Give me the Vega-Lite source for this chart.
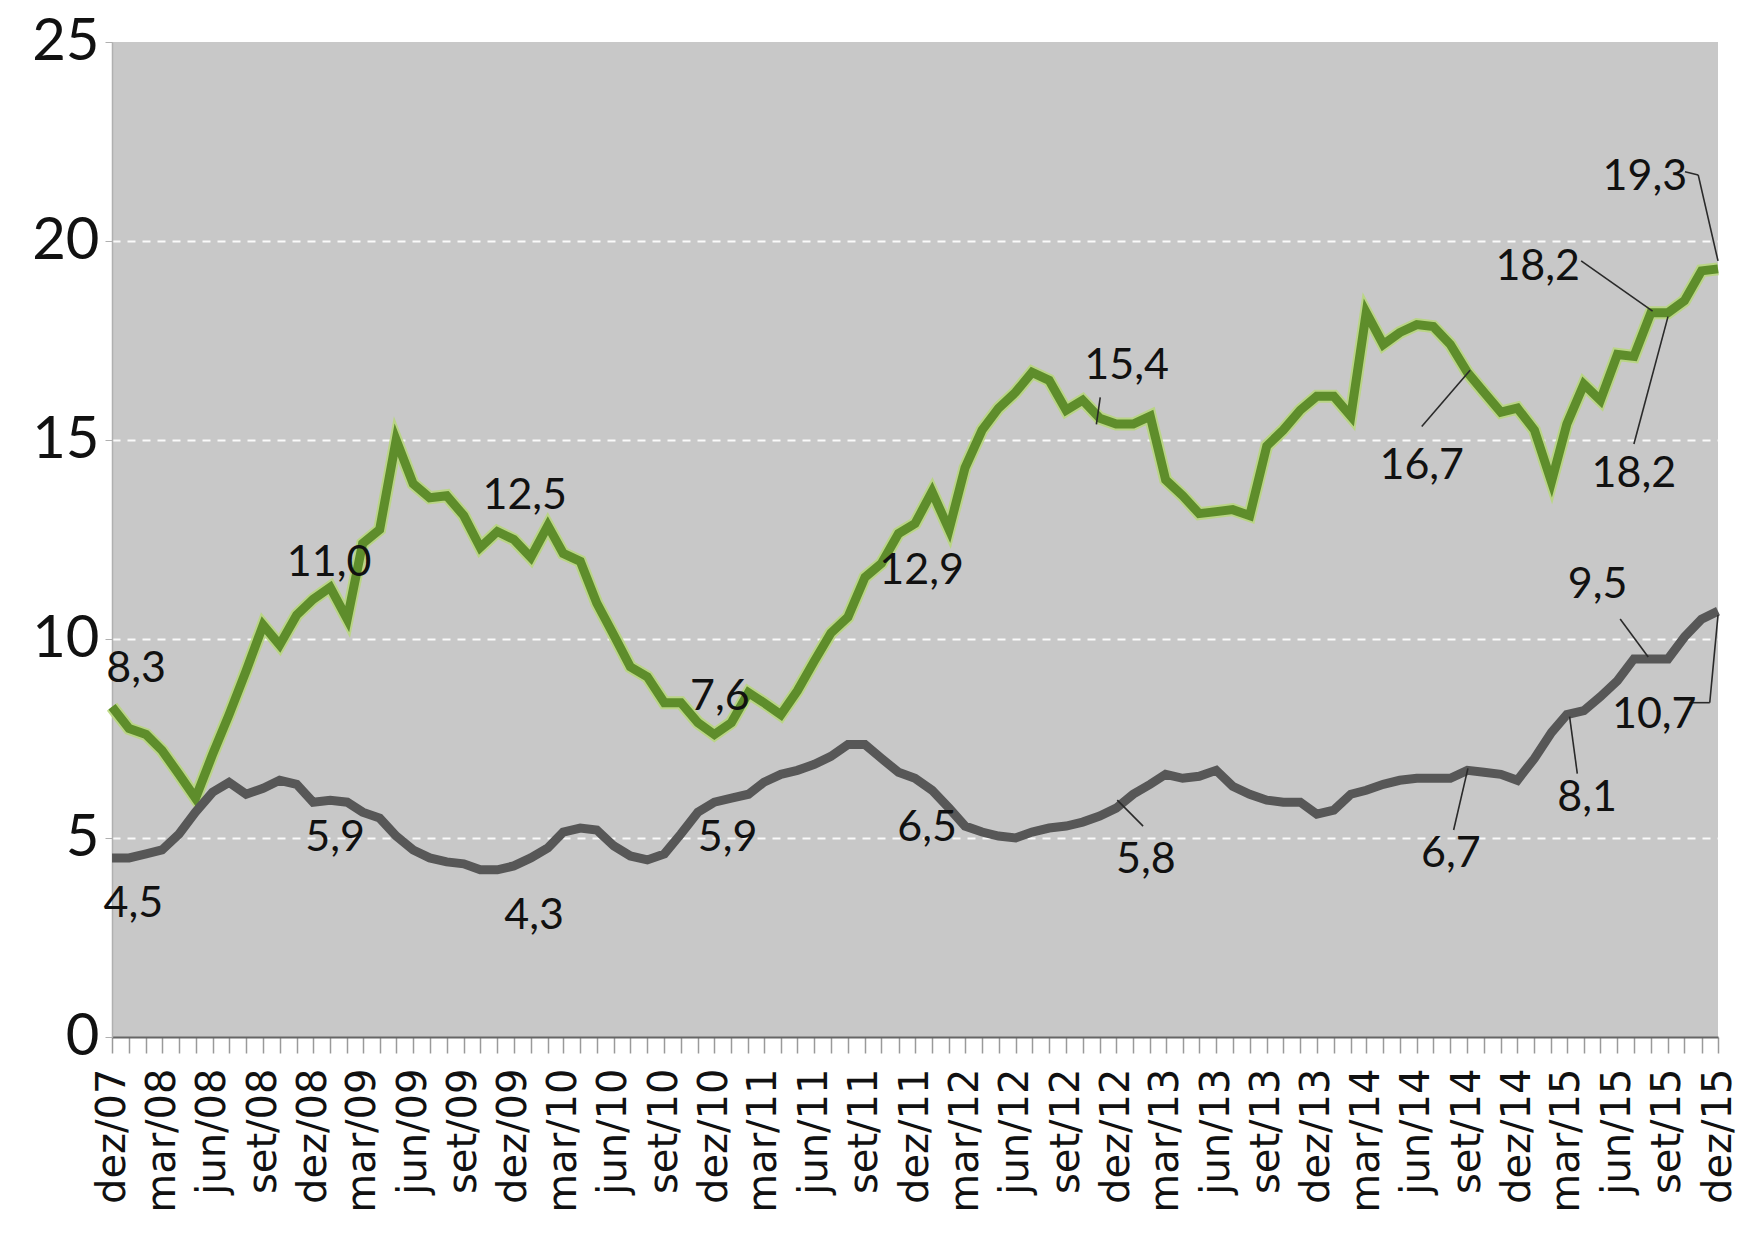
{
  "$schema": "https://vega.github.io/schema/vega-lite/v6.json",
  "width": 1606,
  "height": 995,
  "autosize": {"type": "none"},
  "padding": {"left": 112, "top": 42, "right": 31, "bottom": 202},
  "background": "white",
  "config": {"view": {"fill": "#c8c8c8", "stroke": null}, "font": "Lato"},
  "datasets": {
    "series": [
      {"mes":"2007-12-01","Serie1":8.3,"Serie2":4.5},
      {"mes":"2008-01-01","Serie1":7.75,"Serie2":4.5},
      {"mes":"2008-02-01","Serie1":7.6,"Serie2":4.6},
      {"mes":"2008-03-01","Serie1":7.2,"Serie2":4.7},
      {"mes":"2008-04-01","Serie1":6.6,"Serie2":5.1},
      {"mes":"2008-05-01","Serie1":6.0,"Serie2":5.65},
      {"mes":"2008-06-01","Serie1":7.1,"Serie2":6.15},
      {"mes":"2008-07-01","Serie1":8.1,"Serie2":6.4},
      {"mes":"2008-08-01","Serie1":9.2,"Serie2":6.1},
      {"mes":"2008-09-01","Serie1":10.35,"Serie2":6.25},
      {"mes":"2008-10-01","Serie1":9.85,"Serie2":6.45},
      {"mes":"2008-11-01","Serie1":10.6,"Serie2":6.35},
      {"mes":"2008-12-01","Serie1":11.0,"Serie2":5.9},
      {"mes":"2009-01-01","Serie1":11.3,"Serie2":5.95},
      {"mes":"2009-02-01","Serie1":10.5,"Serie2":5.9},
      {"mes":"2009-03-01","Serie1":12.4,"Serie2":5.65},
      {"mes":"2009-04-01","Serie1":12.75,"Serie2":5.5},
      {"mes":"2009-05-01","Serie1":15.0,"Serie2":5.05},
      {"mes":"2009-06-01","Serie1":13.9,"Serie2":4.7},
      {"mes":"2009-07-01","Serie1":13.55,"Serie2":4.5},
      {"mes":"2009-08-01","Serie1":13.6,"Serie2":4.4},
      {"mes":"2009-09-01","Serie1":13.1,"Serie2":4.35},
      {"mes":"2009-10-01","Serie1":12.3,"Serie2":4.2},
      {"mes":"2009-11-01","Serie1":12.7,"Serie2":4.2},
      {"mes":"2009-12-01","Serie1":12.5,"Serie2":4.3},
      {"mes":"2010-01-01","Serie1":12.05,"Serie2":4.5},
      {"mes":"2010-02-01","Serie1":12.85,"Serie2":4.75},
      {"mes":"2010-03-01","Serie1":12.15,"Serie2":5.15},
      {"mes":"2010-04-01","Serie1":11.95,"Serie2":5.25},
      {"mes":"2010-05-01","Serie1":10.9,"Serie2":5.2},
      {"mes":"2010-06-01","Serie1":10.1,"Serie2":4.8},
      {"mes":"2010-07-01","Serie1":9.3,"Serie2":4.55},
      {"mes":"2010-08-01","Serie1":9.05,"Serie2":4.45},
      {"mes":"2010-09-01","Serie1":8.4,"Serie2":4.6},
      {"mes":"2010-10-01","Serie1":8.4,"Serie2":5.1},
      {"mes":"2010-11-01","Serie1":7.9,"Serie2":5.65},
      {"mes":"2010-12-01","Serie1":7.6,"Serie2":5.9},
      {"mes":"2011-01-01","Serie1":7.9,"Serie2":6.0},
      {"mes":"2011-02-01","Serie1":8.65,"Serie2":6.1},
      {"mes":"2011-03-01","Serie1":8.4,"Serie2":6.4},
      {"mes":"2011-04-01","Serie1":8.1,"Serie2":6.6},
      {"mes":"2011-05-01","Serie1":8.7,"Serie2":6.7},
      {"mes":"2011-06-01","Serie1":9.45,"Serie2":6.85},
      {"mes":"2011-07-01","Serie1":10.15,"Serie2":7.05},
      {"mes":"2011-08-01","Serie1":10.55,"Serie2":7.35},
      {"mes":"2011-09-01","Serie1":11.55,"Serie2":7.35},
      {"mes":"2011-10-01","Serie1":11.9,"Serie2":7.0},
      {"mes":"2011-11-01","Serie1":12.65,"Serie2":6.65},
      {"mes":"2011-12-01","Serie1":12.9,"Serie2":6.5},
      {"mes":"2012-01-01","Serie1":13.7,"Serie2":6.2},
      {"mes":"2012-02-01","Serie1":12.75,"Serie2":5.75},
      {"mes":"2012-03-01","Serie1":14.3,"Serie2":5.3},
      {"mes":"2012-04-01","Serie1":15.25,"Serie2":5.15},
      {"mes":"2012-05-01","Serie1":15.8,"Serie2":5.05},
      {"mes":"2012-06-01","Serie1":16.2,"Serie2":5.0},
      {"mes":"2012-07-01","Serie1":16.7,"Serie2":5.15},
      {"mes":"2012-08-01","Serie1":16.5,"Serie2":5.25},
      {"mes":"2012-09-01","Serie1":15.75,"Serie2":5.3},
      {"mes":"2012-10-01","Serie1":16.0,"Serie2":5.4},
      {"mes":"2012-11-01","Serie1":15.55,"Serie2":5.55},
      {"mes":"2012-12-01","Serie1":15.4,"Serie2":5.75},
      {"mes":"2013-01-01","Serie1":15.4,"Serie2":6.1},
      {"mes":"2013-02-01","Serie1":15.6,"Serie2":6.35},
      {"mes":"2013-03-01","Serie1":14.0,"Serie2":6.6},
      {"mes":"2013-04-01","Serie1":13.6,"Serie2":6.5},
      {"mes":"2013-05-01","Serie1":13.15,"Serie2":6.55},
      {"mes":"2013-06-01","Serie1":13.2,"Serie2":6.7},
      {"mes":"2013-07-01","Serie1":13.25,"Serie2":6.3},
      {"mes":"2013-08-01","Serie1":13.1,"Serie2":6.1},
      {"mes":"2013-09-01","Serie1":14.85,"Serie2":5.95},
      {"mes":"2013-10-01","Serie1":15.25,"Serie2":5.9},
      {"mes":"2013-11-01","Serie1":15.75,"Serie2":5.9},
      {"mes":"2013-12-01","Serie1":16.1,"Serie2":5.6},
      {"mes":"2014-01-01","Serie1":16.1,"Serie2":5.7},
      {"mes":"2014-02-01","Serie1":15.6,"Serie2":6.1},
      {"mes":"2014-03-01","Serie1":18.2,"Serie2":6.2},
      {"mes":"2014-04-01","Serie1":17.4,"Serie2":6.35},
      {"mes":"2014-05-01","Serie1":17.7,"Serie2":6.45},
      {"mes":"2014-06-01","Serie1":17.9,"Serie2":6.5},
      {"mes":"2014-07-01","Serie1":17.85,"Serie2":6.5},
      {"mes":"2014-08-01","Serie1":17.4,"Serie2":6.5},
      {"mes":"2014-09-01","Serie1":16.7,"Serie2":6.7},
      {"mes":"2014-10-01","Serie1":16.2,"Serie2":6.65},
      {"mes":"2014-11-01","Serie1":15.7,"Serie2":6.6},
      {"mes":"2014-12-01","Serie1":15.8,"Serie2":6.45},
      {"mes":"2015-01-01","Serie1":15.25,"Serie2":7.0},
      {"mes":"2015-02-01","Serie1":13.95,"Serie2":7.65},
      {"mes":"2015-03-01","Serie1":15.4,"Serie2":8.1},
      {"mes":"2015-04-01","Serie1":16.4,"Serie2":8.2},
      {"mes":"2015-05-01","Serie1":16.0,"Serie2":8.55},
      {"mes":"2015-06-01","Serie1":17.15,"Serie2":8.95},
      {"mes":"2015-07-01","Serie1":17.1,"Serie2":9.5},
      {"mes":"2015-08-01","Serie1":18.2,"Serie2":9.5},
      {"mes":"2015-09-01","Serie1":18.2,"Serie2":9.5},
      {"mes":"2015-10-01","Serie1":18.5,"Serie2":10.05},
      {"mes":"2015-11-01","Serie1":19.25,"Serie2":10.5},
      {"mes":"2015-12-01","Serie1":19.3,"Serie2":10.7}
    ],
    "rotulos": [
      {"mes":"2008-01-14","valor":9.25,"rotulo":"8,3"},
      {"mes":"2008-12-30","valor":11.9,"rotulo":"11,0"},
      {"mes":"2009-12-21","valor":13.6,"rotulo":"12,5"},
      {"mes":"2010-12-11","valor":8.55,"rotulo":"7,6"},
      {"mes":"2011-12-13","valor":11.7,"rotulo":"12,9"},
      {"mes":"2012-12-20","valor":16.85,"rotulo":"15,4"},
      {"mes":"2014-06-10","valor":14.35,"rotulo":"16,7"},
      {"mes":"2015-01-07","valor":19.35,"rotulo":"18,2"},
      {"mes":"2015-07-01","valor":14.15,"rotulo":"18,2"},
      {"mes":"2015-07-21","valor":21.6,"rotulo":"19,3"},
      {"mes":"2008-01-09","valor":3.35,"rotulo":"4,5"},
      {"mes":"2009-01-10","valor":5.0,"rotulo":"5,9"},
      {"mes":"2010-01-07","valor":3.05,"rotulo":"4,3"},
      {"mes":"2010-12-25","valor":5.0,"rotulo":"5,9"},
      {"mes":"2011-12-23","valor":5.25,"rotulo":"6,5"},
      {"mes":"2013-01-24","valor":4.45,"rotulo":"5,8"},
      {"mes":"2014-08-02","valor":4.6,"rotulo":"6,7"},
      {"mes":"2015-04-07","valor":6.0,"rotulo":"8,1"},
      {"mes":"2015-04-26","valor":11.35,"rotulo":"9,5"},
      {"mes":"2015-08-07","valor":8.1,"rotulo":"10,7"}
    ],
    "guias": [
      {"mes":"2012-11-02","valor":16.07,"mes2":"2012-10-26","valor2":15.39},
      {"mes":"2014-06-10","valor":15.34,"mes2":"2014-09-06","valor2":16.75},
      {"mes":"2015-03-27","valor":19.5,"mes2":"2015-08-04","valor2":18.24},
      {"mes":"2015-07-01","valor":14.9,"mes2":"2015-09-01","valor2":18.1},
      {"mes":"2015-10-02","valor":21.74,"mes2":"2015-10-26","valor2":21.66},
      {"mes":"2015-10-26","valor":21.66,"mes2":"2015-12-01","valor2":19.5},
      {"mes":"2012-12-03","valor":5.95,"mes2":"2013-01-19","valor2":5.3},
      {"mes":"2014-09-02","valor":6.75,"mes2":"2014-08-07","valor2":5.2},
      {"mes":"2015-03-20","valor":6.62,"mes2":"2015-03-06","valor2":8.05},
      {"mes":"2015-06-06","valor":10.5,"mes2":"2015-07-27","valor2":9.55},
      {"mes":"2015-10-10","valor":8.4,"mes2":"2015-11-16","valor2":8.4},
      {"mes":"2015-11-16","valor":8.4,"mes2":"2015-12-01","valor2":10.6}
    ]
  },
  "layer": [
    {
      "data": {"name": "series"},
      "transform": [{"fold": ["Serie1", "Serie2"], "as": ["serie", "valor"]}, {"filter": "datum.serie == 'Serie1'"}],
      "mark": {"type": "line", "strokeWidth": 13, "color": "#b7d77a", "opacity": 0.85, "strokeJoin": "miter"},
      "encoding": {
        "x": {
          "field": "mes", "type": "temporal",
          "scale": {"type": "utc", "nice": false, "domain": [{"year": 2007, "month": 12, "date": 1, "utc": true}, {"year": 2015, "month": 12, "date": 1, "utc": true}]},
          "axis": {
            "title": null,
            "tickCount": {"interval": "month", "step": 1},
            "labelExpr": "indexof([2,5,8,11], utcmonth(datum.value)) >= 0 ? (['jan','fev','mar','abr','mai','jun','jul','ago','set','out','nov','dez'][utcmonth(datum.value)] + '/' + utcFormat(datum.value, '%y')) : ''",
            "labelAngle": -90,
            "labelFont": "DejaVu Sans",
            "labelFontSize": 40,
            "labelColor": "#111111",
            "labelOverlap": false,
            "labelFlush": false,
            "labelBound": false,
            "labelPadding": 15,
            "tickColor": "#9a9a9a",
            "tickSize": 16,
            "tickWidth": 1.5,
            "domainColor": "#666666",
            "domainWidth": 2,
            "grid": false
          }
        },
        "y": {
          "field": "valor", "type": "quantitative",
          "scale": {"domain": [0, 25], "nice": false},
          "axis": {
            "title": null,
            "values": [0, 5, 10, 15, 20, 25],
            "labelFont": "Lato",
            "labelFontSize": 58,
            "labelColor": "#111111",
            "labelPadding": 6,
            "domainColor": "#b0b0b0",
            "domainWidth": 1.5,
            "tickColor": "#b0b0b0",
            "tickSize": 7,
            "grid": true,
            "gridColor": "#ffffff",
            "gridDash": [8, 7],
            "gridWidth": 2,
            "gridOpacity": {"condition": {"test": "datum.value == 0 || datum.value == 25", "value": 0}, "value": 0.9}
          }
        }
      }
    },
    {
      "data": {"name": "series"},
      "transform": [{"fold": ["Serie1", "Serie2"], "as": ["serie", "valor"]}],
      "mark": {"type": "line", "strokeWidth": 9, "strokeJoin": "miter"},
      "encoding": {
        "x": {"field": "mes", "type": "temporal"},
        "y": {"field": "valor", "type": "quantitative"},
        "color": {"field": "serie", "type": "nominal", "scale": {"domain": ["Serie2", "Serie1"], "range": ["#575757", "#5e8d2b"]}, "legend": null},
        "order": {"field": "mes"}
      }
    },
    {
      "data": {"name": "guias"},
      "mark": {"type": "rule", "color": "#2a2a2a", "strokeWidth": 1.6},
      "encoding": {
        "x": {"field": "mes", "type": "temporal"},
        "y": {"field": "valor", "type": "quantitative"},
        "x2": {"field": "mes2"},
        "y2": {"field": "valor2"}
      }
    },
    {
      "data": {"name": "rotulos"},
      "mark": {"type": "text", "font": "Lato", "fontSize": 43, "color": "#111111", "align": "center", "baseline": "middle"},
      "encoding": {
        "x": {"field": "mes", "type": "temporal"},
        "y": {"field": "valor", "type": "quantitative"},
        "text": {"field": "rotulo", "type": "nominal"}
      }
    }
  ]
}
